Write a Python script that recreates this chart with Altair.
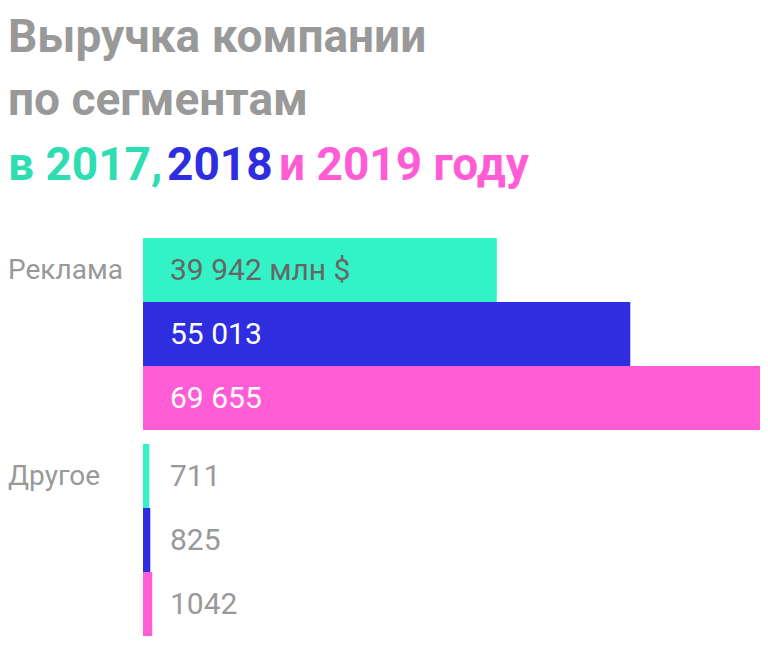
import altair as alt
import pandas as pd

segments = ["Реклама", "Другое"]
years = ["2017", "2018", "2019"]
revenue_ads = [39942, 55013, 69655]
revenue_other = [711, 825, 1042]
labels_ads = ["39 942 млн $", "55 013", "69 655"]
labels_other = ["711", "825", "1042"]
title_line1 = "Выручка компании"
title_line2 = "по сегментам"
title_parts = ["в 2017,", "2018", "и 2019 году"]

colors = ["#33F2C6", "#2E2EE0", "#FF5CD6"]
title_colors = ["#2EDDB2", "#2E2EE0", "#FF5CD6"]

rows = []
for seg, vals, labs in [(segments[0], revenue_ads, labels_ads), (segments[1], revenue_other, labels_other)]:
    for yr, v, lb in zip(years, vals, labs):
        rows.append({"segment": seg, "year": yr, "value": v, "label": lb})
df = pd.DataFrame(rows)

W, H = 617, 398
y_enc = alt.Y("segment:N", sort=segments, axis=None,
              scale=alt.Scale(paddingInner=14 / 206, paddingOuter=0))
yoff = alt.YOffset("year:N", sort=years, scale=alt.Scale(paddingInner=0, paddingOuter=0))
x_scale = alt.Scale(domain=[0, 69655], nice=False, zero=True)

base = alt.Chart(df)

bars = base.mark_bar(cornerRadius=0).encode(
    y=y_enc, yOffset=yoff,
    x=alt.X("value:Q", scale=x_scale, axis=None),
    color=alt.Color("year:N", scale=alt.Scale(domain=years, range=colors), legend=None),
)

def val_text(filt, color):
    return base.transform_filter(filt).transform_calculate(zero="0").mark_text(
        align="left", baseline="middle", dx=27, dy=1, fontSize=30, font="Roboto", color=color
    ).encode(
        y=y_enc, yOffset=yoff,
        x=alt.X("zero:Q", scale=x_scale, axis=None),
        text="label:N",
    )

t1 = val_text((alt.datum.segment == segments[0]) & (alt.datum.year == years[0]), "#666666")
t2 = val_text((alt.datum.segment == segments[0]) & (alt.datum.year != years[0]), "#FFFFFF")
t3 = val_text(alt.datum.segment == segments[1], "#999999")

seg_labels = base.transform_filter(alt.datum.year == years[0]).mark_text(
    align="left", baseline="middle", dy=1, fontSize=28, font="Roboto", color="#999999"
).encode(
    y=y_enc, yOffset=yoff,
    x=alt.value(-135),
    text="segment:N",
)

def title_text(txt, x, y, color):
    return alt.Chart(pd.DataFrame({"t": [txt]})).mark_text(
        align="left", baseline="alphabetic", fontSize=46, fontWeight="bold",
        font="Roboto", color=color
    ).encode(text="t:N", x=alt.value(x), y=alt.value(y))

titles = [
    title_text(title_line1, -135, -186, "#999999"),
    title_text(title_line2, -135, -123, "#999999"),
    title_text(title_parts[0], -135, -58, title_colors[0]),
    title_text(title_parts[1], 24, -58, title_colors[1]),
    title_text(title_parts[2], 136, -58, title_colors[2]),
]

chart = alt.layer(bars, t1, t2, t3, seg_labels, *titles).properties(
    width=W, height=H,
    background="#FFFFFF",
    autosize=alt.AutoSizeParams(type="none"),
    padding={"left": 135, "top": 230, "right": 0, "bottom": 0},
).configure_view(stroke=None)

chart.save("out.html", embed_options={"renderer": "svg", "actions": False})
